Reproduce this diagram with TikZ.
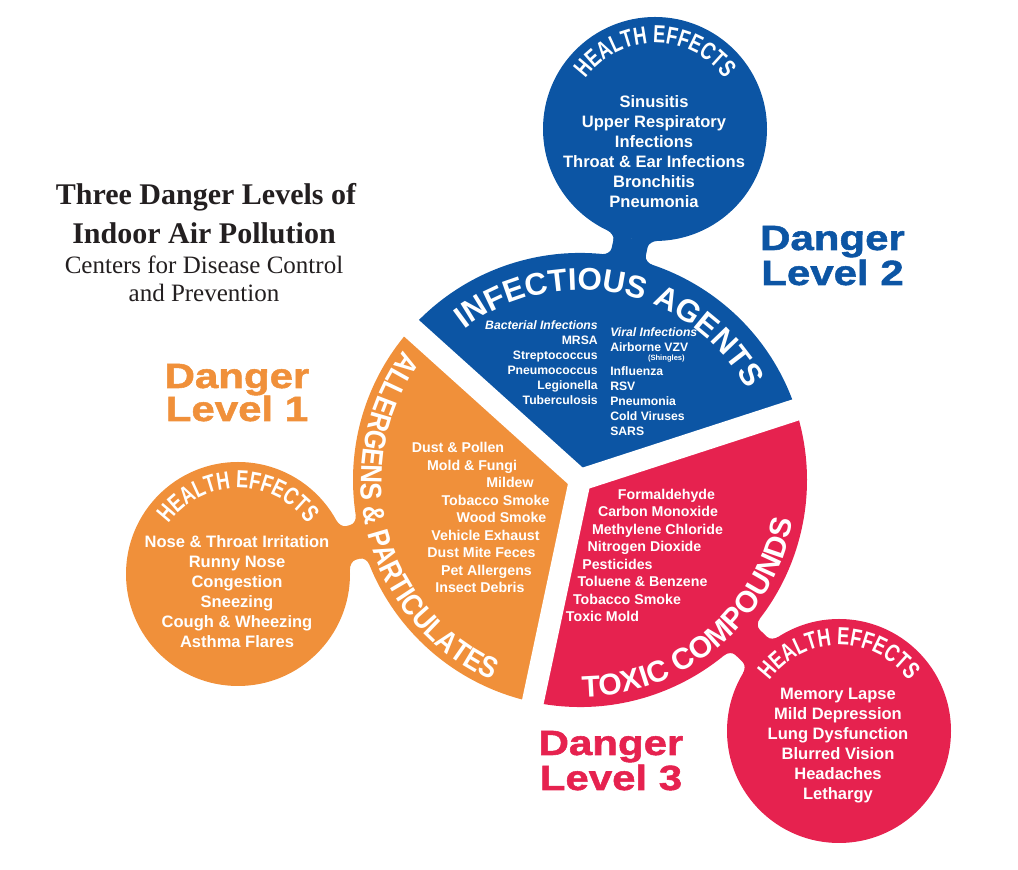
\documentclass[tikz,border=0pt]{standalone}
\usepackage{fontspec}
\setmainfont{Liberation Serif}
\newfontfamily\sansf{Liberation Sans}
\newfontfamily\dangerfont[FakeStretch=1.2,FakeBold=1.5]{Liberation Sans}
\newfontfamily\hefont[FakeStretch=0.74]{Liberation Sans}
\newfontfamily\allfont[FakeStretch=0.86]{Liberation Sans}
\usetikzlibrary{decorations.text}
\definecolor{cblue}{HTML}{0C55A4}
\definecolor{corange}{HTML}{F0903A}
\definecolor{cred}{HTML}{E6224F}
\definecolor{ctitle}{HTML}{231F20}
\newcommand\stemfillets[3]{%
  \begin{scope}[shift={(P)}, rotate=#1]
    \foreach \s in {1,-1}{
      \fill[#3, yscale=\s] (233,17.5) .. controls (229.5,17.5) and (226.0,21.5) .. (225.56,25.5) -- (216,0) -- (233,0) -- cycle;
      \fill[#3, yscale=\s] (#2-117,17.5) .. controls (#2-113.5,17.5) and (#2-109.97,21.6) .. (#2-109.06,25.5) -- (#2-100,0) -- (#2-117,0) -- cycle;
    }
  \end{scope}}
\begin{document}
\begin{tikzpicture}[x=0.75pt,y=0.75pt,
  he/.style={circle, minimum size=168pt, inner sep=0pt, draw=none},
  stemline/.style={line width=26.25pt},
  gapline/.style={white, line width=16.5pt},
  helist/.style={text=white, font=\sansf\bfseries\fontsize{12.4}{15}\selectfont, anchor=base, inner sep=0pt},
  seclist/.style={text=white, font=\sansf\bfseries\fontsize{10.65}{13}\selectfont, anchor=base, inner sep=0pt},
  inflist/.style={text=white, font=\sansf\bfseries\fontsize{9.15}{11}\selectfont, inner sep=0pt},
  infhead/.style={inflist, font=\sansf\bfseries\itshape\fontsize{9.15}{11}\selectfont},
  danger/.style={font=\dangerfont\bfseries\fontsize{26.25}{26.25}\selectfont, anchor=base, inner sep=0pt},
  titlebold/.style={text=ctitle, font=\bfseries\fontsize{22.5}{24}\selectfont, anchor=base, inner sep=0pt},
  titlereg/.style={text=ctitle, font=\fontsize{18.75}{20}\selectfont, anchor=base, inner sep=0pt},
]
\useasboundingbox (0,0) rectangle (1018,870);
\fill[white] (0,0) rectangle (1018,870);
\coordinate (P) at (580,390);

% health effect circles
\node[he, fill=cblue] (heB) at (655,741) {};
\node[he, fill=corange] (heO) at (238,296) {};
\node[he, fill=cred] (heR) at (839,139) {};

% stems
\draw[stemline, cblue] (heB) -- (P);
\draw[stemline, corange] (heO) -- (P);
\draw[stemline, cred] (heR) -- (P);

% pie sectors
\fill[cblue] (P) -- ++(18:227) arc[start angle=18, end angle=138, radius=227] -- cycle;
\fill[corange] (P) -- ++(138:227) arc[start angle=138, end angle=258, radius=227] -- cycle;
\fill[cred] (P) -- ++(258:227) arc[start angle=258, end angle=378, radius=227] -- cycle;

% fillets where stems meet
\stemfillets{77.94}{358.92}{cblue}
\stemfillets{195.37}{354.68}{corange}
\stemfillets{-44.10}{360.67}{cred}

% gaps
\draw[gapline] (P) -- ++(18:245);
\draw[gapline] (P) -- ++(138:245);
\draw[gapline] (P) -- ++(258:245);

% sector titles
\path[decorate, decoration={text along path, text align=center,
  text={|\sansf\bfseries\fontsize{23.5}{23.5}\selectfont\color{white}|INFECTIOUS AGENTS}}]
  (P) ++(137:190) arc[start angle=137, end angle=19, radius=190];
\path[decorate, decoration={text along path, text align=center,
  text={|\allfont\bfseries\fontsize{22.5}{22.5}\selectfont\color{white}|ALLERGENS {\&} PARTICULATES}}]
  (P) ++(140:219) arc[start angle=140, end angle=250, radius=219];
\path[decorate, decoration={text along path, text align=center,
  text={|\sansf\bfseries\fontsize{22.5}{22.5}\selectfont\color{white}|TOXIC COMPOUNDS}}]
  (P) ++(260:217) arc[start angle=260, end angle=360, radius=217];

% HEALTH EFFECTS arcs
\foreach \c in {heB,heO,heR}{
  \path[decorate, decoration={text along path, text align=center,
    text={|\hefont\bfseries\fontsize{18.5}{18.5}\selectfont\color{white}|HEALTH EFFECTS}}]
    (\c.center) ++(170:86) arc[start angle=170, end angle=10, radius=86];
}

% health effect lists
\foreach \t [count=\i] in {Sinusitis, Upper Respiratory, Infections, Throat \& Ear Infections, Bronchitis, Pneumonia}
  \node[helist] (hb\i) at (654,{762-20*(\i-1)}) {\t};
\foreach \t [count=\i] in {Nose \& Throat Irritation, Runny Nose, Congestion, Sneezing, Cough \& Wheezing, Asthma Flares}
  \node[helist] (ho\i) at (237,{322-20*(\i-1)}) {\t};
\foreach \t [count=\i] in {Memory Lapse, Mild Depression, Lung Dysfunction, Blurred Vision, Headaches, Lethargy}
  \node[helist] (hr\i) at (838,{170-20*(\i-1)}) {\t};

% infectious agents lists
\node[infhead, anchor=base east] (bac) at (598,540) {Bacterial Infections};
\foreach \t [count=\i] in {MRSA, Streptococcus, Pneumococcus, Legionella, Tuberculosis}
  \node[inflist, anchor=base east] (bl\i) at (598,{525-15*(\i-1)}) {\t};
\node[infhead, anchor=base west] (vir) at (610,533) {Viral Infections};
\node[inflist, anchor=base west] (v1) at (610,518) {Airborne VZV};
\node[inflist, anchor=base east, font=\sansf\bfseries\fontsize{5.7}{6}\selectfont] (v1s) at (685,509) {(Shingles)};
\foreach \t [count=\i] in {Influenza, RSV, Pneumonia, Cold Viruses, SARS}
  \node[inflist, anchor=base west] (vl\i) at (610,{494-15*(\i-1)}) {\t};

% allergens list
\foreach \t/\xx [count=\i] in {Dust \& Pollen/458, Mold \& Fungi/472, Mildew/510, Tobacco Smoke/495.5, Wood Smoke/501.5, Vehicle Exhaust/485.5, Dust Mite Feces/481.5, Pet Allergens/486.5, Insect Debris/480}
  \node[seclist] (al\i) at (\xx,{417.3-17.5*(\i-1)}) {\t};

% toxic list
\foreach \t/\xx [count=\i] in {Formaldehyde/666.5, Carbon Monoxide/658, Methylene Chloride/657.5, Nitrogen Dioxide/644.5, Pesticides/617.5, Toluene \& Benzene/642.5, Tobacco Smoke/627, Toxic Mold/602.5}
  \node[seclist] (tl\i) at (\xx,{370.7-17.5*(\i-1)}) {\t};

% title
\node[titlebold] (t1) at (206,665) {Three Danger Levels of};
\node[titlebold] (t2) at (204,626.7) {Indoor Air Pollution};
\node[titlereg] (t3) at (204,596.7) {Centers for Disease Control};
\node[titlereg] (t4) at (204,568.3) {and Prevention};

% danger levels
\node[danger, text=corange] (d1a) at (237,482) {Danger};
\node[danger, text=corange] (d1b) at (237,449) {Level 1};
\node[danger, text=cblue] (d2a) at (832.5,620) {Danger};
\node[danger, text=cblue] (d2b) at (832.5,585) {Level 2};
\node[danger, text=cred] (d3a) at (611,115) {Danger};
\node[danger, text=cred] (d3b) at (611,80) {Level 3};
\end{tikzpicture}
\end{document}
